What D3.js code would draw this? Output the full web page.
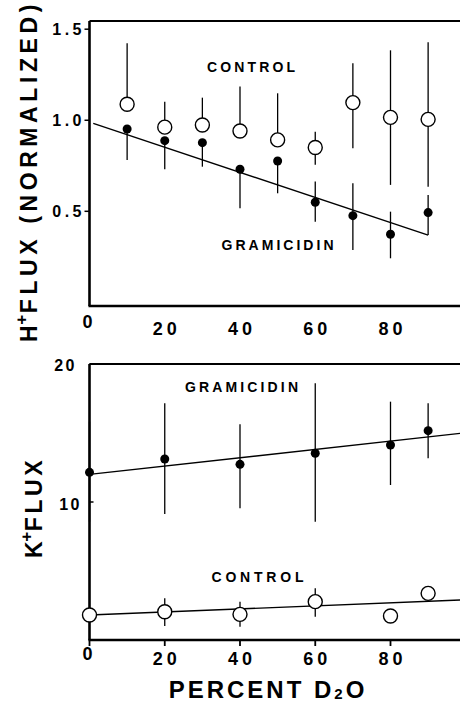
<!DOCTYPE html>
<html>
<head>
<meta charset="utf-8">
<script src="https://cdn.jsdelivr.net/npm/d3@7"></script>
<style>
  html, body { margin: 0; padding: 0; background: #fff; }
  svg { display: block; }
  text { font-family: "Liberation Sans", Arial, Helvetica, sans-serif; font-weight: bold; fill: #000; }
</style>
</head>
<body>
<svg id="chart" width="460" height="703"></svg>
<script>
// ---------- Top panel: H+ flux (normalized) ----------
const hPercent = [10, 20, 30, 40, 50, 60, 70, 80, 90];
const hControl = [1.088, 0.962, 0.974, 0.941, 0.892, 0.850, 1.097, 1.016, 1.005];
const hControlHi = [1.423, 1.102, 1.124, 1.185, 1.148, 0.937, 1.313, 1.384, 1.428];
const hControlLo = [null, null, null, null, null, 0.755, 0.846, 0.645, 0.635];
const hGramicidin = [0.952, 0.888, 0.877, 0.731, 0.776, 0.550, 0.476, 0.374, 0.493];
const hGramicidinHi = [null, null, null, null, null, 0.663, 0.654, 0.498, 0.590];
const hGramicidinLo = [0.782, 0.731, 0.745, 0.517, 0.599, 0.443, 0.288, 0.242, 0.370];
const hFitIntercept = 0.99, hFitSlope = -0.0069, hFitRange = [1, 90];
const hTicks = [0.5, 1.0, 1.5];
const hTickLabels = ["0.5", "1.0", "1.5"];

// ---------- Bottom panel: K+ flux ----------
const kPercent = [0, 20, 40, 60, 80, 90];
const kGramicidin = [12.15, 13.12, 12.73, 13.53, 14.13, 15.17];
const kGramicidinHi = [15.82, 17.15, 15.63, 18.6, 17.27, 17.15];
const kGramicidinLo = [8.57, 9.13, 9.54, 8.57, 11.23, 13.17];
const kControl = [1.81, 2.05, 1.86, 2.78, 1.74, 3.38];
const kControlHi = [null, 3.02, 2.78, 3.75, null, null];
const kControlLo = [null, 1.01, 0.96, 1.69, null, null];
const kGramFit = { intercept: 12.0, slope: 0.0302 };
const kCtrlFit = { intercept: 1.81, slope: 0.011 };
const kFitRange = [0, 100];
const kTicks = [10, 20];
const kTickLabels = ["10", "20"];

// ---------- shared x axis ----------
const xTicks = [0, 20, 40, 60, 80];
const xTickLabels = ["0", "20", "40", "60", "80"];

const svg = d3.select("#chart");
const x = d3.scaleLinear().domain([0, 80]).range([89.5, 390.5]);
const xMax = 100;

function drawPanel(g, y, yTop) {
  g.append("line").attr("x1", x(0)).attr("x2", x(xMax)).attr("y1", y(yTop)).attr("y2", y(yTop))
    .attr("stroke", "#000").attr("stroke-width", 1.8);
  g.append("line").attr("x1", x(0)).attr("x2", x(0)).attr("y1", y(yTop)).attr("y2", y(y.domain()[0]))
    .attr("stroke", "#000").attr("stroke-width", 2.6);
  g.append("line").attr("x1", x(0) - 1).attr("x2", x(xMax)).attr("y1", y(y.domain()[0])).attr("y2", y(y.domain()[0]))
    .attr("stroke", "#000").attr("stroke-width", 2.6);
}

function errorBars(g, xs, ys, his, los, y) {
  xs.forEach((xv, i) => {
    const top = his[i] != null ? his[i] : ys[i];
    const bot = los[i] != null ? los[i] : ys[i];
    if (top === bot) return;
    g.append("line").attr("x1", x(xv)).attr("x2", x(xv)).attr("y1", y(top)).attr("y2", y(bot))
      .attr("stroke", "#000").attr("stroke-width", 1.3);
  });
}

// ===== TOP PANEL =====
const yH = d3.scaleLinear().domain([-0.02, 1.545]).range([306, 21]);
const gTop = svg.append("g");
drawPanel(gTop, yH, 1.545);

gTop.selectAll(".ytick").data(hTicks).join("line")
  .attr("x1", x(0) - 5).attr("x2", x(0)).attr("y1", d => yH(d)).attr("y2", d => yH(d))
  .attr("stroke", "#000").attr("stroke-width", 1.5);
gTop.selectAll(".ylab").data(hTicks).join("text")
  .attr("x", 85).attr("y", d => yH(d)).attr("dy", "0.36em")
  .attr("text-anchor", "end").attr("font-size", 16).attr("letter-spacing", 3.5)
  .text((d, i) => hTickLabels[i]);
gTop.selectAll(".xlab").data(xTicks).join("text")
  .attr("x", d => x(d) + (d === 0 ? 0 : 2)).attr("y", d => d === 0 ? 328 : 335)
  .attr("text-anchor", "middle").attr("font-size", 18).attr("letter-spacing", 4)
  .text((d, i) => xTickLabels[i]);

gTop.append("line")
  .attr("x1", x(hFitRange[0])).attr("y1", yH(hFitIntercept + hFitSlope * hFitRange[0]))
  .attr("x2", x(hFitRange[1])).attr("y2", yH(hFitIntercept + hFitSlope * hFitRange[1]))
  .attr("stroke", "#000").attr("stroke-width", 1.4);

errorBars(gTop, hPercent, hControl, hControlHi, hControlLo, yH);
errorBars(gTop, hPercent, hGramicidin, hGramicidinHi, hGramicidinLo, yH);

gTop.selectAll(".ctrl").data(hPercent).join("circle")
  .attr("cx", d => x(d)).attr("cy", (d, i) => yH(hControl[i])).attr("r", 7)
  .attr("fill", "#fff").attr("stroke", "#000").attr("stroke-width", 1.4);
gTop.selectAll(".gram").data(hPercent).join("circle")
  .attr("cx", d => x(d)).attr("cy", (d, i) => yH(hGramicidin[i])).attr("r", 4.5)
  .attr("fill", "#000");

gTop.append("text").attr("x", 251).attr("y", 71.5).attr("text-anchor", "middle")
  .attr("font-size", 14).attr("textLength", 88).attr("lengthAdjust", "spacing").text("CONTROL");
gTop.append("text").attr("x", 277.5).attr("y", 250).attr("text-anchor", "middle")
  .attr("font-size", 14).attr("textLength", 112).attr("lengthAdjust", "spacing").text("GRAMICIDIN");

const tTop = gTop.append("text").attr("transform", "translate(37,342) rotate(-90)")
  .attr("font-size", 23).attr("letter-spacing", 4.6);
tTop.append("tspan").text("H");
tTop.append("tspan").attr("font-size", 17).attr("dy", -10).attr("dx", -4).text("+");
tTop.append("tspan").attr("dy", 10).attr("dx", -3).text("FLUX (NORMALIZED)");

// ===== BOTTOM PANEL =====
const yK = d3.scaleLinear().domain([0, 20]).range([640, 364]);
const gBot = svg.append("g");
drawPanel(gBot, yK, 20);

gBot.selectAll(".ytick").data(kTicks).join("line")
  .attr("x1", x(0)).attr("x2", x(0) + 4).attr("y1", d => yK(d)).attr("y2", d => yK(d))
  .attr("stroke", "#000").attr("stroke-width", 1.5);
gBot.selectAll(".ylab").data(kTicks).join("text")
  .attr("x", d => d === 20 ? 77 : 82).attr("y", d => yK(d) + (d === 20 ? 1 : 2)).attr("dy", "0.36em")
  .attr("text-anchor", "end").attr("font-size", 16).attr("letter-spacing", 2.5)
  .text((d, i) => kTickLabels[i]);
gBot.selectAll(".xtick").data(xTicks).join("line")
  .attr("x1", d => x(d)).attr("x2", d => x(d)).attr("y1", yK(0)).attr("y2", yK(0) + 6)
  .attr("stroke", "#000").attr("stroke-width", 1.8);
gBot.selectAll(".xlab").data(xTicks).join("text")
  .attr("x", d => x(d) + (d === 0 ? 0 : 2)).attr("y", d => d === 0 ? 660 : 665)
  .attr("text-anchor", "middle").attr("font-size", 18).attr("letter-spacing", 4)
  .text((d, i) => xTickLabels[i]);

[kGramFit, kCtrlFit].forEach(f => {
  gBot.append("line")
    .attr("x1", x(kFitRange[0])).attr("y1", yK(f.intercept + f.slope * kFitRange[0]))
    .attr("x2", x(kFitRange[1])).attr("y2", yK(f.intercept + f.slope * kFitRange[1]))
    .attr("stroke", "#000").attr("stroke-width", 1.4);
});

errorBars(gBot, kPercent, kGramicidin, kGramicidinHi, kGramicidinLo, yK);
errorBars(gBot, kPercent, kControl, kControlHi, kControlLo, yK);

gBot.selectAll(".ctrl").data(kPercent).join("circle")
  .attr("cx", d => x(d)).attr("cy", (d, i) => yK(kControl[i])).attr("r", 7)
  .attr("fill", "#fff").attr("stroke", "#000").attr("stroke-width", 1.4);
gBot.selectAll(".gram").data(kPercent).join("circle")
  .attr("cx", d => x(d)).attr("cy", (d, i) => yK(kGramicidin[i])).attr("r", 4.5)
  .attr("fill", "#000");

gBot.append("text").attr("x", 241.5).attr("y", 391.5).attr("text-anchor", "middle")
  .attr("font-size", 14).attr("textLength", 113).attr("lengthAdjust", "spacing").text("GRAMICIDIN");
gBot.append("text").attr("x", 257.5).attr("y", 581.5).attr("text-anchor", "middle")
  .attr("font-size", 14).attr("textLength", 92).attr("lengthAdjust", "spacing").text("CONTROL");

const tBot = gBot.append("text").attr("transform", "translate(41.5,558) rotate(-90)")
  .attr("font-size", 23).attr("letter-spacing", 3.6);
tBot.append("tspan").text("K");
tBot.append("tspan").attr("font-size", 17).attr("dy", -10).attr("dx", -4).text("+");
tBot.append("tspan").attr("dy", 10).attr("dx", -3).text("FLUX");

// x title
const tX = svg.append("text").attr("x", 268).attr("y", 698).attr("text-anchor", "middle")
  .attr("font-size", 24).attr("letter-spacing", 3);
tX.append("tspan").text("PERCENT D");
tX.append("tspan").attr("font-size", 15).attr("dy", 1).text("2");
tX.append("tspan").attr("dy", -1).text("O");
</script>
</body>
</html>
